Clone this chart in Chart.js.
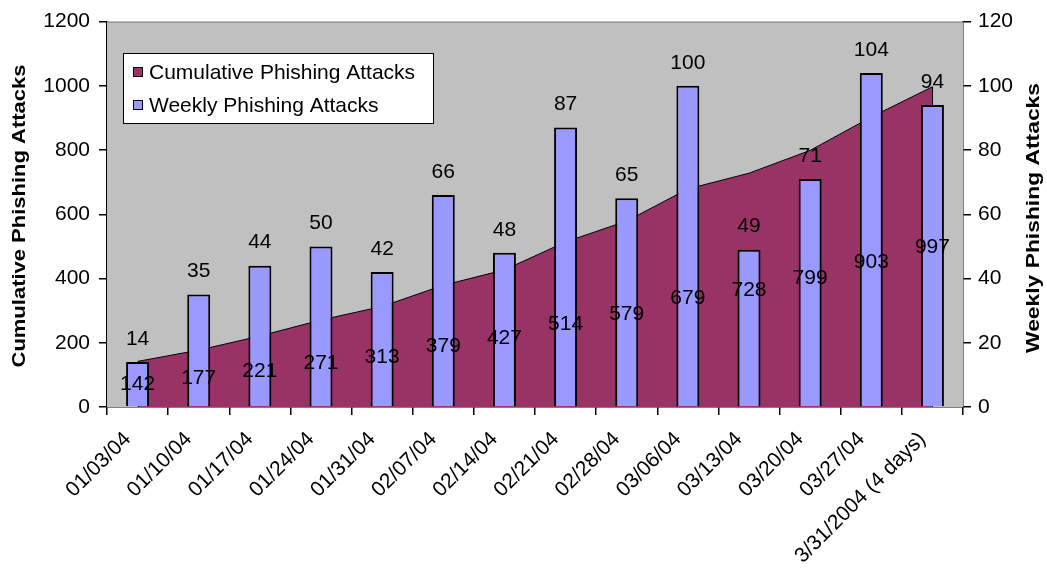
<!DOCTYPE html>
<html>
<head>
<meta charset="utf-8">
<title>Phishing Attacks</title>
<script src="https://cdn.jsdelivr.net/npm/chart.js@4.4.0/dist/chart.umd.min.js"></script>
<style>
  html, body { margin: 0; padding: 0; background: #fff; }
  #wrap { width: 1047px; height: 569px; }
</style>
</head>
<body>
<div id="wrap"><canvas id="chart" width="1047" height="569"></canvas></div>
<script>
(function () {
  "use strict";

  var weeks = ["01/03/04", "01/10/04", "01/17/04", "01/24/04", "01/31/04", "02/07/04", "02/14/04",
    "02/21/04", "02/28/04", "03/06/04", "03/13/04", "03/20/04", "03/27/04", "3/31/2004 (4 days)"];
  var weekly = [14, 35, 44, 50, 42, 66, 48, 87, 65, 100, 49, 71, 104, 94];
  var cumulative = [142, 177, 221, 271, 313, 379, 427, 514, 579, 679, 728, 799, 903, 997];
  var leftTicks = [0, 200, 400, 600, 800, 1000, 1200];
  var rightTicks = [0, 20, 40, 60, 80, 100, 120];

  var COL = { area: "#993366", bar: "#9999ff", plot: "#c0c0c0", ink: "#000000" };
  var FONT = "Liberation Sans, Arial, sans-serif";
  var SIZE = 21;

  // grey plot background and thin top edge
  var plotBg = {
    id: "plotBg",
    beforeDatasetsDraw: function (chart) {
      var a = chart.chartArea, ctx = chart.ctx;
      ctx.save();
      ctx.fillStyle = COL.plot;
      ctx.fillRect(a.left, a.top, a.right - a.left, a.bottom - a.top);
      ctx.strokeStyle = "#808080"; ctx.lineWidth = 1;
      ctx.beginPath(); ctx.moveTo(a.left, a.top + 0.5); ctx.lineTo(a.right, a.top + 0.5); ctx.stroke();
      ctx.restore();
    }
  };

  // vertical edges of the cumulative area, drawn before the bars cover them
  var areaEdges = {
    id: "areaEdges",
    afterDatasetDraw: function (chart, args) {
      if (args.index !== 1) return;
      var pts = args.meta.data, ctx = chart.ctx, base = chart.scales.y.getPixelForValue(0);
      ctx.save();
      ctx.strokeStyle = COL.ink; ctx.lineWidth = 1;
      [pts[0], pts[pts.length - 1]].forEach(function (p) {
        ctx.beginPath(); ctx.moveTo(Math.round(p.x) + 0.5, p.y); ctx.lineTo(Math.round(p.x) + 0.5, base); ctx.stroke();
      });
      ctx.restore();
    }
  };

  // value labels: weekly above bars, cumulative in the middle of the area
  var valueLabels = {
    id: "valueLabels",
    afterDatasetsDraw: function (chart) {
      var ctx = chart.ctx, base = chart.scales.y.getPixelForValue(0);
      ctx.save();
      ctx.font = SIZE + "px " + FONT;
      ctx.fillStyle = COL.ink;
      ctx.textAlign = "center"; ctx.textBaseline = "middle";
      chart.getDatasetMeta(0).data.forEach(function (b, i) {
        ctx.fillText(String(weekly[i]), b.x, b.y - 23);
      });
      chart.getDatasetMeta(1).data.forEach(function (p, i) {
        ctx.fillText(String(cumulative[i]), p.x, (p.y + base) / 2);
      });
      ctx.restore();
    }
  };

  // bold rotated title, stretched along its length to the given span
  function sideTitle(ctx, text, x, midY, span) {
    ctx.save();
    ctx.font = "bold 19px " + FONT;
    ctx.textAlign = "center"; ctx.textBaseline = "alphabetic";
    var w = ctx.measureText(text).width;
    ctx.translate(x, midY); ctx.rotate(-Math.PI / 2); ctx.scale(span / w, 1);
    ctx.fillStyle = COL.ink;
    ctx.fillText(text, 0, 0);
    ctx.restore();
  }

  // legend box inside the plot, and the two axis titles
  var decor = {
    id: "decor",
    afterDraw: function (chart) {
      var ctx = chart.ctx;
      ctx.save();
      var lx = 123, ly = 53, lw = 310, lh = 70;
      ctx.fillStyle = "#fff"; ctx.fillRect(lx, ly, lw, lh);
      ctx.strokeStyle = COL.ink; ctx.lineWidth = 1;
      ctx.strokeRect(lx + 0.5, ly + 0.5, lw, lh);
      ctx.font = SIZE + "px " + FONT; ctx.textBaseline = "middle"; ctx.textAlign = "left";
      [["Cumulative Phishing Attacks", COL.area, ly + 19], ["Weekly Phishing Attacks", COL.bar, ly + 52]].forEach(function (it) {
        ctx.fillStyle = it[1]; ctx.fillRect(lx + 10, it[2] - 5, 10, 10);
        ctx.strokeRect(lx + 10.5, it[2] - 4.5, 9, 9);
        ctx.fillStyle = COL.ink; ctx.fillText(it[0], lx + 26, it[2] + 1);
      });
      ctx.restore();
      sideTitle(ctx, "Cumulative Phishing Attacks", 25, 216, 303);
      sideTitle(ctx, "Weekly Phishing Attacks", 1039, 218, 270);
    }
  };

  function axisTicks(list) {
    return function (scale) { scale.ticks = list.map(function (v) { return { value: v }; }); };
  }
  function plain(v) { return String(v); }

  new Chart(document.getElementById("chart"), {
    data: {
      labels: weeks,
      datasets: [
        { type: "bar", label: "Weekly Phishing Attacks", data: weekly, yAxisID: "y2", order: 1,
          backgroundColor: COL.bar, borderColor: COL.ink, borderWidth: 2, borderSkipped: "bottom",
          categoryPercentage: 1, barPercentage: 0.376 },
        { type: "line", label: "Cumulative Phishing Attacks", data: cumulative, yAxisID: "y", order: 2,
          fill: "origin", backgroundColor: COL.area, borderColor: COL.ink, borderWidth: 1,
          pointRadius: 0, tension: 0 }
      ]
    },
    options: {
      responsive: false, animation: false,
      layout: { padding: { top: 19 } },
      plugins: { legend: { display: false }, tooltip: { enabled: false } },
      scales: {
        x: {
          offset: true,
          grid: { offset: true, drawOnChartArea: false, tickLength: 8, color: COL.ink, lineWidth: 1.5 },
          border: { color: COL.ink, width: 1.5 },
          ticks: { autoSkip: false, maxRotation: 45, minRotation: 45, color: COL.ink, padding: 12,
            labelOffset: -10, font: { family: FONT, size: SIZE } },
          afterFit: function (s) { s.height = 162; }
        },
        y: {
          position: "left", min: 0, max: 1200,
          grid: { drawOnChartArea: false, tickLength: 8, color: COL.ink, lineWidth: 1.5 },
          border: { color: COL.ink, width: 1.5 },
          ticks: { color: COL.ink, padding: 9, callback: plain, font: { family: FONT, size: SIZE } },
          afterBuildTicks: axisTicks(leftTicks),
          afterFit: function (s) { s.width = 107; }
        },
        y2: {
          position: "right", min: 0, max: 120,
          grid: { drawOnChartArea: false, tickLength: 8, color: COL.ink, lineWidth: 1.5 },
          border: { color: COL.ink, width: 1.5 },
          ticks: { color: COL.ink, padding: 7, callback: plain, font: { family: FONT, size: SIZE } },
          afterBuildTicks: axisTicks(rightTicks),
          afterFit: function (s) { s.width = 84; }
        }
      }
    },
    plugins: [plotBg, areaEdges, valueLabels, decor]
  });
})();
</script>
</body>
</html>
